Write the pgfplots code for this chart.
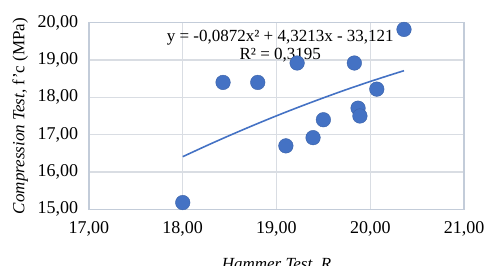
\documentclass[border=0pt]{standalone}
\usepackage{pgfplots}
\pgfplotsset{compat=1.18}
\usepackage{fontspec}
\setmainfont{Liberation Serif}
\definecolor{ptblue}{HTML}{4472C4}
\definecolor{gridc}{HTML}{D9DDE3}
\definecolor{axc}{HTML}{C3CCD9}
\begin{document}
\fontsize{17bp}{20bp}\selectfont
\begin{tikzpicture}
\begin{axis}[
  scale only axis,
  width=375bp, height=186.6bp,
  xmin=17, xmax=21, ymin=15, ymax=20,
  xtick={17,18,19,20,21}, ytick={15,16,17,18,19,20},
  grid=major,
  major grid style={gridc, line width=1.2pt},
  axis line style={axc, line width=1.2pt},
  tick style={draw=none},
  /pgf/number format/.cd, fixed, fixed zerofill, precision=2, use comma, assume math mode=true,
  /pgfplots/.cd,
  ticklabel style={font=\fontsize{18bp}{20bp}\selectfont},
  xticklabel style={yshift=-6bp},
  yticklabel style={xshift=-5bp},
  xlabel={\itshape Hammer Test, R},
  ylabel={{\itshape Compression Test,} f'c (MPa)},
  xlabel style={yshift=-11bp},
  ylabel style={yshift=-2bp},
  clip=false,
]
\addplot[only marks, mark=*, mark size=7.3bp, mark options={fill=ptblue, draw=ptblue!85!black, line width=0.4pt}] coordinates {
(18.00,15.18) (18.43,18.40) (18.80,18.40) (19.22,18.92) (19.10,16.70)
(19.39,16.92) (19.50,17.40) (19.83,18.92) (19.87,17.71) (19.89,17.50)
(20.07,18.22) (20.36,19.82)
};
\addplot[ptblue, line width=1.6pt, smooth, no marks] coordinates {
(18.00,16.410) (18.25,16.700) (18.50,16.979) (18.75,17.247) (19.00,17.505)
(19.25,17.751) (19.50,17.986) (19.75,18.212) (20.00,18.425) (20.20,18.588) (20.36,18.714)
};
\node[align=center, inner sep=0pt] at (axis cs:19.04,19.38) {y = -0,0872x² + 4,3213x - 33,121\\[-2bp] R² = 0,3195};
\end{axis}
\pgfresetboundingbox
\useasboundingbox (-89bp,-56.7bp) rectangle (396bp,209.3bp);
\end{tikzpicture}
\end{document}
